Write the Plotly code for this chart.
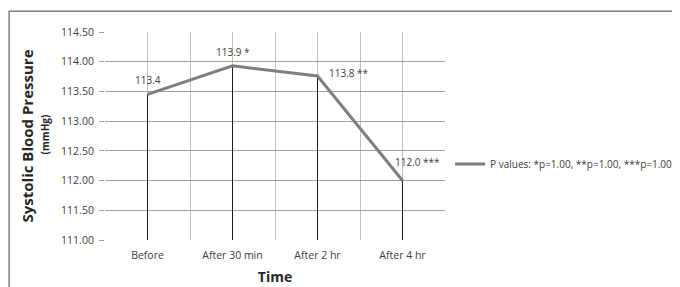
import plotly.graph_objects as go

categories = ["Before", "After 30 min", "After 2 hr", "After 4 hr"]
values = [113.45, 113.93, 113.76, 112.0]
labels = ["113.4", "113.9 *", "113.8 **", "112.0 ***"]
series_name = "P values: *p=1.00, **p=1.00, ***p=1.00"
y_ticks = [111.0, 111.5, 112.0, 112.5, 113.0, 113.5, 114.0, 114.5]

FONT = "Open Sans"
xs = list(range(len(categories)))

# category centres plus half-step gridline positions
grid_vals, grid_text = [-0.5], [""]
for i, c in zip(xs, categories):
    grid_vals += [i, i + 0.5]
    grid_text += [c, ""]

fig = go.Figure()

# drop lines from each point down to the axis floor
drop_x, drop_y = [], []
for i, v in zip(xs, values):
    drop_x += [i, i, None]
    drop_y += [y_ticks[0], v, None]
fig.add_trace(go.Scatter(x=drop_x, y=drop_y, mode="lines",
                         line=dict(color="#1a1a1a", width=1),
                         showlegend=False, hoverinfo="skip"))

fig.add_trace(go.Scatter(x=xs, y=values, mode="lines", name=series_name,
                         line=dict(color="#7f7f7f", width=3)))

shifts = [(0, 14), (0, 14), (31, 3), (15, 19)]
for i, (v, t, (dx, dy)) in enumerate(zip(values, labels, shifts)):
    fig.add_annotation(x=xs[i], y=v, text=t, showarrow=False,
                       xshift=dx, yshift=dy,
                       font=dict(family=FONT, size=10, color="#404040"))

# y-axis title (two lines, different sizes)
fig.add_annotation(xref="paper", yref="paper", x=-0.228, y=0.5,
                   xanchor="center", yanchor="middle",
                   text="<b>Systolic Blood Pressure</b>", textangle=-90,
                   showarrow=False,
                   font=dict(family=FONT, size=15, color="#262626"))
fig.add_annotation(xref="paper", yref="paper", x=-0.178, y=0.51,
                   xanchor="center", yanchor="middle",
                   text="<b>(mmHg)</b>", textangle=-90, showarrow=False,
                   font=dict(family=FONT, size=10, color="#262626"))

# outer chart border
fig.add_shape(type="rect", xref="paper", yref="paper",
              x0=-0.282, x1=1.8, y0=-0.27, y1=1.1,
              line=dict(color="#7f7f7f", width=1.5), layer="below")

fig.update_layout(
    width=672, height=279,
    margin=dict(l=97, r=235, t=24, b=47, autoexpand=False),
    paper_bgcolor="white", plot_bgcolor="white",
    font=dict(family=FONT, size=10, color="#404040"),
    showlegend=True,
    legend=dict(x=1.015, y=0.365, xanchor="left", yanchor="middle",
                font=dict(family=FONT, size=10, color="#404040"),
                bgcolor="rgba(0,0,0,0)", tracegroupgap=0,
                itemwidth=30),
    xaxis=dict(range=[-0.5, 3.5], tickvals=grid_vals, ticktext=grid_text,
               showgrid=True, gridcolor="#bfbfbf", gridwidth=1,
               zeroline=False, showline=False, ticklabelstandoff=7,
               ticks="", tickfont=dict(family=FONT, size=10.5, color="#404040"),
               title=dict(text="<b>Time</b>", standoff=11,
                          font=dict(family=FONT, size=14, color="#262626"))),
    yaxis=dict(range=[y_ticks[0], y_ticks[-1]], tickvals=y_ticks,
               tickformat=".2f", showgrid=True, gridcolor="#a0a0a0",
               gridwidth=1, zeroline=False, showline=False,
               ticks="outside", ticklen=5, tickcolor="#a0a0a0",
               ticklabelstandoff=3,
               tickfont=dict(family=FONT, size=10.5, color="#404040")),
)

fig.write_html("out.html")
